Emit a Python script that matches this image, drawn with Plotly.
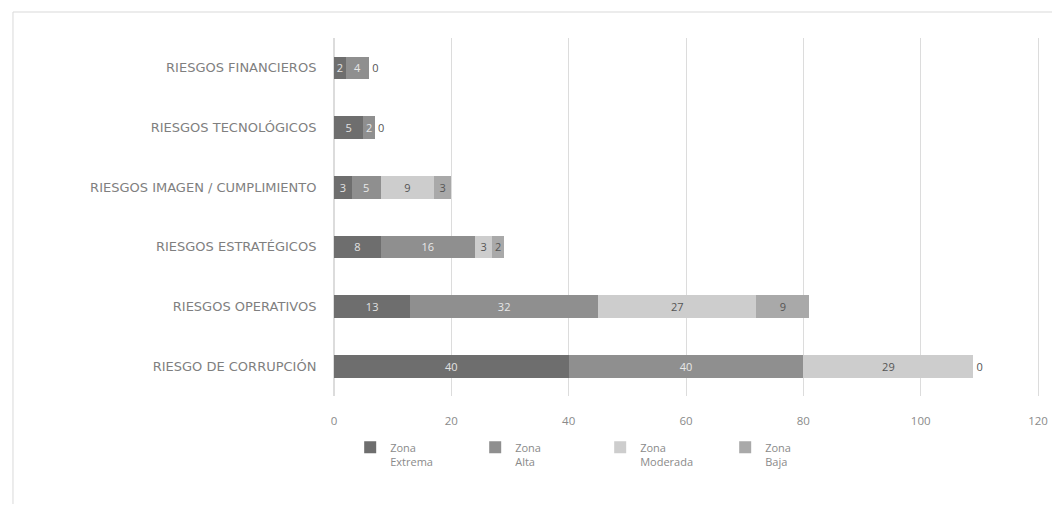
import plotly.graph_objects as go

categories = [
    "RIESGOS FINANCIEROS",
    "RIESGOS TECNOLÓGICOS",
    "RIESGOS IMAGEN / CUMPLIMIENTO",
    "RIESGOS ESTRATÉGICOS",
    "RIESGOS OPERATIVOS",
    "RIESGO DE CORRUPCIÓN",
]
zona_extrema = [2, 5, 3, 8, 13, 40]
zona_alta = [4, 2, 5, 16, 32, 40]
zona_moderada = [0, 0, 9, 3, 27, 29]
zona_baja = [0, 0, 3, 2, 9, 0]

series = [
    ("Zona<br>Extrema", zona_extrema, "#6e6e6e", "#e2e2e2"),
    ("Zona<br>Alta", zona_alta, "#8f8f8f", "#e8e8e8"),
    ("Zona<br>Moderada", zona_moderada, "#cdcdcd", "#555555"),
    ("Zona<br>Baja", zona_baja, "#a9a9a9", "#555555"),
]

FONT = "Open Sans"

fig = go.Figure()
for i, (name, vals, color, tcolor) in enumerate(series):
    last = i == len(series) - 1
    texts = [str(v) if (v != 0 or last) else "" for v in vals]
    positions = ["outside" if (last and v == 0) else "inside" for v in vals]
    fig.add_trace(go.Bar(
        y=categories, x=vals, name=name, orientation="h",
        marker=dict(color=color, line=dict(width=0)),
        text=texts, textposition=positions, insidetextanchor="middle",
        textfont=dict(size=11, color=tcolor, family=FONT),
        outsidetextfont=dict(size=11, color="#555555", family=FONT),
        cliponaxis=False,
    ))

fig.update_layout(
    width=1052, height=496,
    barmode="stack", bargap=0.62,
    paper_bgcolor="white", plot_bgcolor="white",
    margin=dict(l=326, r=22, t=30, b=108, autoexpand=False),
    font=dict(family=FONT, color="#7f7f7f", size=10),
    uniformtext=dict(minsize=11, mode="show"),
    xaxis=dict(range=[0, 120], dtick=20, showgrid=True, gridcolor="#dcdcdc",
               gridwidth=1, zeroline=True, zerolinecolor="#dcdcdc",
               showline=False, ticks="", ticklabelstandoff=16, automargin=False,
               tickfont=dict(size=11.5, color="#8a8a8a", family=FONT)),
    yaxis=dict(autorange="reversed", showgrid=False, ticks="",
               showline=True, linecolor="#dcdcdc", linewidth=1, mirror=True,
               ticklabelstandoff=14, automargin=False,
               tickfont=dict(size=13, color="#7f7f7f", family="DejaVu Sans")),
    legend=dict(orientation="h", x=0.023, xanchor="left", y=-0.105, yanchor="top",
                entrywidth=80, font=dict(size=11, color="#8a8a8a", family=FONT),
                traceorder="normal", itemwidth=30, valign="top"),
    shapes=[dict(type="rect", xref="paper", yref="paper",
                 x0=-0.456, x1=1.06, y0=-0.35, y1=1.0726,
                 line=dict(color="#d9d9d9", width=1), layer="below")],
)

fig.write_html("out.html")
